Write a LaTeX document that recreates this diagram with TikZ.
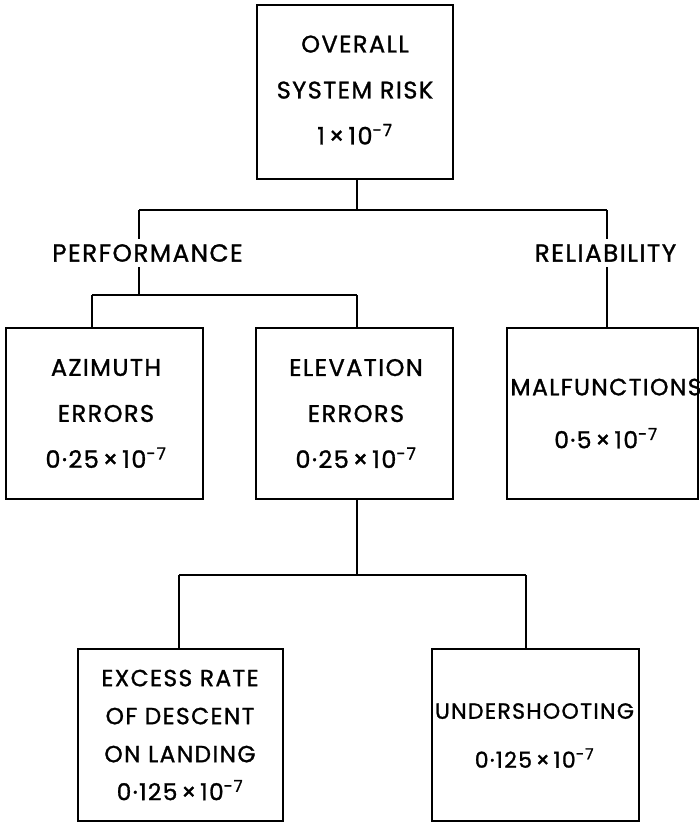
\documentclass[tikz,border=0pt]{standalone}
\usepackage{fontspec}
\setmainfont{Poppins}[LetterSpace=6,FakeBold=1.2]
\newcommand{\sci}[1]{#1\,×\,10\textsuperscript{-7}}
\begin{document}
\begin{tikzpicture}[x=0.75pt,y=-0.75pt,
  box/.style={draw,line width=1.6pt,inner sep=0pt},
  conn/.style={line width=1.1pt},
  lbl/.style={align=center,inner sep=0pt},
  txtT/.style={lbl,font=\fontsize{18}{34.5}\selectfont},
  txtA/.style={lbl,font=\fontsize{18}{34.5}\selectfont},
  txtM/.style={lbl,font=\fontsize{17.6}{39.75}\selectfont},
  txtE/.style={lbl,font=\fontsize{17.5}{28.5}\selectfont},
  txtU/.style={lbl,font=\fontsize{16.5}{36.75}\selectfont},
  branch/.style={lbl,fill=white,inner xsep=2pt,inner ysep=4pt,font=\fontsize{18.5}{22}\selectfont}]
\useasboundingbox (0,0) rectangle (700,822);

% boxes
\node[box,minimum width=147pt,minimum height=130.5pt] (top) at (355,92) {};
\node[box,minimum width=147.75pt,minimum height=128.25pt] (az) at (104.5,413.5) {};
\node[box,minimum width=147.75pt,minimum height=128.25pt] (el) at (354.5,413.5) {};
\node[box,minimum width=143.25pt,minimum height=128.25pt] (mal) at (602.5,413.5) {};
\node[box,minimum width=153.75pt,minimum height=129pt] (ex) at (180.5,735) {};
\node[box,minimum width=155.25pt,minimum height=129pt] (un) at (535.5,735) {};

% junction points
\coordinate (f1L) at (139,210);
\coordinate (f1R) at (607,210);
\coordinate (f1M) at (357,210);
\coordinate (f2L) at (92,295);
\coordinate (f2R) at (357,295);
\coordinate (f3) at (357,575);
\coordinate (f3L) at (179,575);
\coordinate (f3R) at (526,575);

% connectors
\draw[conn] (top.south -| f1M) -- (f1M);
\draw[conn] (f1L) -- (f1R);
\draw[conn] (f1L) -- (f2L -| f1L);
\draw[conn] (f1R) -- (f1R |- mal.north);
\draw[conn] (f2L) -- (f2R);
\draw[conn] (f2L) -- (f2L |- az.north);
\draw[conn] (f2R) -- (f2R |- el.north);
\draw[conn] (f2R |- el.south) -- (f3);
\draw[conn] (f3L) -- (f3R);
\draw[conn] (f3L) -- (f3L |- ex.north);
\draw[conn] (f3R) -- (f3R |- un.north);

% branch labels
\node[branch] (perf) at (147.5,253) {PERFORMANCE};
\node[branch] (rel) at (605.5,253) {RELIABILITY};

% box texts
\node[txtT] (topT) at (355,90) {OVERALL\\SYSTEM RISK\\\sci{1}};
\node[txtA] (azT) at (106,413.5) {AZIMUTH\\ERRORS\\\sci{0·25}};
\node[txtA] (elT) at (356,413.5) {ELEVATION\\ERRORS\\\sci{0·25}};
\node[txtM] (malT) at (606,413.5) {MALFUNCTIONS\\\sci{0·5}};
\node[txtE] (exT) at (180,735) {EXCESS RATE\\OF DESCENT\\ON LANDING\\\sci{0·125}};
\node[txtU] (unT) at (534.5,735.5) {UNDERSHOOTING\\\sci{0·125}};
\end{tikzpicture}
\end{document}
